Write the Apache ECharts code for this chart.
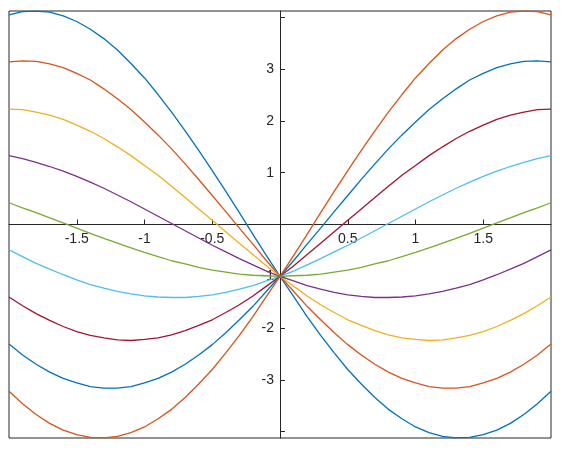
<!DOCTYPE html>
<html>
<head>
<meta charset="utf-8">
<script src="https://cdn.jsdelivr.net/npm/echarts@6/dist/echarts.min.js"></script>
<style>
html,body{margin:0;padding:0;background:#fff;}
#chart{width:563px;height:450px;}
</style>
</head>
<body>
<div id="chart"></div>
<script>
var xValues = [-2.0,-1.9,-1.8,-1.7,-1.6,-1.5,-1.4,-1.3,-1.2,-1.1,-1.0,-0.9,-0.8,-0.7,-0.6,-0.5,-0.4,-0.3,-0.2,-0.1,
               0.0,0.1,0.2,0.3,0.4,0.5,0.6,0.7,0.8,0.9,1.0,1.1,1.2,1.3,1.4,1.5,1.6,1.7,1.8,1.9,2.0];

var curveA = [4.05,4.11,4.12,4.10,4.03,3.92,3.77,3.59,3.37,3.11,2.83,2.51,2.17,1.81,1.43,1.04,0.64,0.23,-0.19,-0.60,
              -1,-1.39,-1.78,-2.14,-2.48,-2.80,-3.08,-3.34,-3.57,-3.75,-3.91,-4.02,-4.09,-4.12,-4.11,-4.06,-3.97,-3.84,-3.67,-3.46,-3.22];
var curveB = [3.14,3.16,3.15,3.10,3.03,2.92,2.79,2.62,2.43,2.22,1.98,1.73,1.46,1.17,0.87,0.56,0.25,-0.07,-0.38,-0.70,
              -1,-1.29,-1.58,-1.84,-2.09,-2.32,-2.52,-2.70,-2.85,-2.97,-3.06,-3.13,-3.16,-3.16,-3.13,-3.06,-2.97,-2.85,-2.70,-2.52,-2.31];
var curveC = [2.23,2.22,2.17,2.11,2.03,1.92,1.80,1.66,1.50,1.33,1.14,0.95,0.74,0.52,0.30,0.08,-0.14,-0.36,-0.58,-0.80,
              -1,-1.19,-1.38,-1.55,-1.70,-1.84,-1.95,-2.05,-2.13,-2.19,-2.22,-2.24,-2.23,-2.19,-2.14,-2.07,-1.97,-1.85,-1.72,-1.57,-1.40];
var curveD = [1.33,1.27,1.20,1.12,1.03,0.93,0.82,0.70,0.57,0.44,0.30,0.16,0.02,-0.12,-0.26,-0.40,-0.53,-0.66,-0.78,-0.90,
              -1,-1.09,-1.18,-1.25,-1.31,-1.36,-1.39,-1.41,-1.41,-1.40,-1.38,-1.34,-1.29,-1.23,-1.16,-1.07,-0.97,-0.86,-0.75,-0.62,-0.49];
var curveE = [0.42,0.32,0.23,0.13,0.03,-0.07,-0.17,-0.27,-0.36,-0.45,-0.54,-0.62,-0.70,-0.76,-0.83,-0.88,-0.92,-0.96,-0.98,-0.99,
              -1,-0.99,-0.98,-0.96,-0.92,-0.88,-0.83,-0.76,-0.70,-0.62,-0.54,-0.45,-0.36,-0.27,-0.17,-0.07,0.03,0.13,0.23,0.32,0.42];
var curveF = [-0.49,-0.62,-0.75,-0.86,-0.97,-1.07,-1.16,-1.23,-1.29,-1.34,-1.38,-1.40,-1.41,-1.41,-1.39,-1.36,-1.31,-1.25,-1.18,-1.09,
              -1,-0.90,-0.78,-0.66,-0.53,-0.40,-0.26,-0.12,0.02,0.16,0.30,0.44,0.57,0.70,0.82,0.93,1.03,1.12,1.20,1.27,1.33];
var curveG = [-1.40,-1.57,-1.72,-1.85,-1.97,-2.07,-2.14,-2.19,-2.23,-2.24,-2.22,-2.19,-2.13,-2.05,-1.95,-1.84,-1.70,-1.55,-1.38,-1.19,
              -1,-0.80,-0.58,-0.36,-0.14,0.08,0.30,0.52,0.74,0.95,1.14,1.33,1.50,1.66,1.80,1.92,2.03,2.11,2.17,2.22,2.23];
var curveH = [-2.31,-2.52,-2.70,-2.85,-2.97,-3.06,-3.13,-3.16,-3.16,-3.13,-3.06,-2.97,-2.85,-2.70,-2.52,-2.32,-2.09,-1.84,-1.58,-1.29,
              -1,-0.70,-0.38,-0.07,0.25,0.56,0.87,1.17,1.46,1.73,1.98,2.22,2.43,2.62,2.79,2.92,3.03,3.10,3.15,3.16,3.14];
var curveI = [-3.22,-3.46,-3.67,-3.84,-3.97,-4.06,-4.11,-4.12,-4.09,-4.02,-3.91,-3.75,-3.57,-3.34,-3.08,-2.80,-2.48,-2.14,-1.78,-1.39,
              -1,-0.60,-0.19,0.23,0.64,1.04,1.43,1.81,2.17,2.51,2.83,3.11,3.37,3.59,3.77,3.92,4.03,4.10,4.12,4.11,4.05];

var curves = [curveA,curveB,curveC,curveD,curveE,curveF,curveG,curveH,curveI];
var colors = ['#0072BD','#D95319','#EDB120','#7E2F8E','#77AC30','#4DBEEE','#A2142F','#0072BD','#D95319'];

var xTickLabels = [-1.5,-1,-0.5,0.5,1,1.5];
var xTickValues = [-1.5,-1,-0.5,0,0.5,1,1.5];
var yTickValues = [-4,-3,-2,-1,0,1,2,3,4];
var yTickLabels = [-3,-2,-1,1,2,3];

var axisColor = '#262626';
var font = 'Liberation Sans, Arial, sans-serif';

var W = 563, H = 450;
var gridL = 9, gridR = 12, gridT = 11, gridB = 12;
var plotW = W - gridL - gridR;
var plotH = H - gridT - gridB;

var series = curves.map(function(c, k){
  return {
    type: 'line',
    data: xValues.map(function(x, i){ return [x, c[i]]; }),
    smooth: false,
    showSymbol: false,
    symbol: 'none',
    lineStyle: {color: colors[k], width: 1.3, join: 'round'},
    itemStyle: {color: colors[k]},
    silent: true,
    animation: false
  };
});

var chart = echarts.init(document.getElementById('chart'), null, {renderer: 'canvas'});
chart.setOption({
  animation: false,
  grid: {left: gridL, right: gridR, top: gridT, bottom: gridB, show: true, borderColor: axisColor, borderWidth: 1,
    backgroundColor: 'transparent', containLabel: false, outerBoundsMode: 'none'},
  xAxis: {
    type: 'value', min: -2, max: 2, interval: 0.5, position: 'bottom',
    offset: -plotH / 2,
    axisLine: {onZero: false, lineStyle: {color: axisColor, width: 1}},
    axisTick: {show: true, inside: true, length: 5, lineStyle: {color: axisColor}, customValues: xTickValues},
    axisLabel: {color: axisColor, fontSize: 14, fontFamily: font, margin: 8, customValues: xTickLabels,
      formatter: function(v){ return String(v); }},
    splitLine: {show: false}
  },
  yAxis: {
    type: 'value', min: -4.1231, max: 4.1231, position: 'left',
    offset: -plotW / 2,
    axisLine: {onZero: false, lineStyle: {color: axisColor, width: 1}},
    axisTick: {show: true, inside: true, length: 5, lineStyle: {color: axisColor}, customValues: yTickValues},
    axisLabel: {color: axisColor, fontSize: 14, fontFamily: font, margin: 6, customValues: yTickLabels,
      formatter: function(v){ return String(v); }},
    splitLine: {show: false}
  },
  series: series
});
</script>
</body>
</html>
